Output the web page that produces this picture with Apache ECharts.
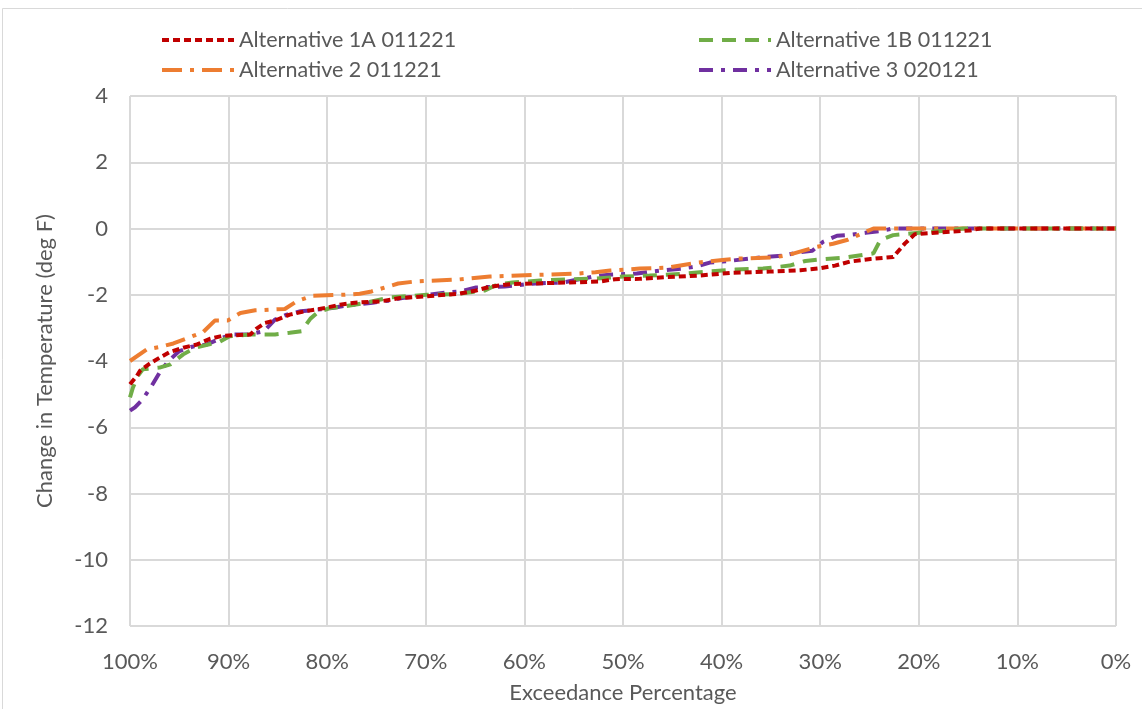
<!DOCTYPE html>
<html>
<head>
<meta charset="utf-8">
<script src="https://cdn.jsdelivr.net/npm/echarts@6/dist/echarts.min.js"></script>
<style>
html,body{margin:0;padding:0;background:#fff;}
#c{width:1142px;height:709px;}
</style>
</head>
<body>
<div id="c"></div>
<script>
const seriesNames = ['Alternative 1A 011221','Alternative 1B 011221','Alternative 2 011221','Alternative 3 020121'];
const xTicks = [100,90,80,70,60,50,40,30,20,10,0];
const yTicks = [-12,-10,-8,-6,-4,-2,0,2,4];

// [exceedance %, change in temperature (deg F)]
const alt1A = [[100,-4.7],[99.3,-4.45],[99,-4.3],[98,-4.08],[97,-3.9],[95.9,-3.72],[94.6,-3.6],[93.2,-3.5],[91.9,-3.33],[90.6,-3.24],[87.8,-3.2],[87.2,-3.03],[86.3,-2.85],[85.3,-2.78],[83.8,-2.6],[82.3,-2.5],[80.2,-2.4],[78.7,-2.3],[77.2,-2.24],[74.6,-2.2],[72.6,-2.1],[70.1,-2.05],[66.7,-1.97],[65,-1.88],[63.5,-1.76],[61.5,-1.68],[55.4,-1.63],[52.3,-1.6],[50.8,-1.53],[48.3,-1.52],[45.7,-1.47],[42.2,-1.42],[39.1,-1.34],[35.1,-1.3],[32,-1.26],[30,-1.2],[28.5,-1.12],[27,-1.0],[24.9,-0.92],[22.6,-0.86],[21.4,-0.45],[20.4,-0.17],[17.8,-0.12],[14.8,-0.06],[13.8,0],[0,0]];
const alt1B = [[100,-5.1],[99.7,-4.8],[99.2,-4.45],[98.7,-4.25],[97,-4.2],[95.9,-4.1],[94.6,-3.8],[93.4,-3.6],[90.9,-3.42],[89.9,-3.25],[87.8,-3.2],[85.3,-3.2],[83.8,-3.15],[82.6,-3.1],[81.7,-2.72],[80.9,-2.52],[79.7,-2.4],[78.2,-2.35],[76.2,-2.25],[73.6,-2.08],[69.9,-2.0],[67,-1.98],[64,-1.87],[62.8,-1.7],[61.2,-1.63],[58.4,-1.57],[55.7,-1.54],[52.8,-1.51],[50,-1.45],[47.3,-1.42],[44.2,-1.37],[41.4,-1.3],[38.6,-1.24],[35.8,-1.21],[33.1,-1.12],[31.5,-0.98],[30.2,-0.94],[27.5,-0.88],[24.6,-0.75],[23.9,-0.35],[22.6,-0.2],[19.9,-0.13],[17.1,-0.06],[15.5,0],[0,0]];
const alt2 = [[100,-4.0],[98.3,-3.65],[97,-3.58],[95.6,-3.47],[94.1,-3.3],[92.6,-3.13],[91.4,-2.78],[90.1,-2.78],[88.8,-2.55],[87.3,-2.47],[84.3,-2.43],[83.1,-2.2],[81.5,-2.03],[78.2,-2.0],[76.7,-1.97],[75.5,-1.9],[72.8,-1.66],[71.1,-1.6],[66.7,-1.54],[63.5,-1.45],[60.6,-1.42],[54.6,-1.36],[52.8,-1.32],[51.3,-1.27],[48.3,-1.21],[45.5,-1.18],[42.4,-1.03],[39.9,-0.95],[38.4,-0.91],[34.6,-0.87],[33.1,-0.79],[30.3,-0.55],[28.7,-0.46],[27.2,-0.34],[24.6,0],[0,0]];
const alt3 = [[100,-5.5],[99.5,-5.4],[98.7,-5.15],[97.8,-4.75],[97,-4.35],[96.1,-4.0],[95,-3.7],[93.7,-3.57],[92.2,-3.5],[90.7,-3.3],[89.4,-3.2],[88,-3.2],[86.4,-3.1],[85.3,-2.75],[84.1,-2.6],[82.7,-2.5],[81,-2.45],[79.5,-2.4],[78.2,-2.33],[75.4,-2.24],[73.8,-2.18],[72.4,-2.1],[70.9,-2.05],[68.1,-1.94],[66.5,-1.9],[64.9,-1.78],[62,-1.75],[58.9,-1.66],[56.1,-1.63],[54.6,-1.54],[53,-1.45],[51.6,-1.4],[48.6,-1.36],[47.1,-1.3],[44,-1.21],[42.6,-1.15],[41.2,-1.03],[39.9,-1.0],[35.3,-0.85],[33.8,-0.82],[32.4,-0.73],[30.8,-0.67],[29.7,-0.4],[28.3,-0.22],[27,-0.19],[25.4,-0.13],[23.9,-0.08],[22.6,0],[0,0]];

const FONT = 'Lato, "Open Sans", sans-serif';
const TXT = '#595959';
const styles = [
  {color:'#C00000', type:[7,4]},
  {color:'#70AD47', type:[14,9]},
  {color:'#ED7D31', type:[20,8,4,8]},
  {color:'#7030A0', type:[14,8,4,8]}
];
const datas = [alt1A, alt1B, alt2, alt3];

const legendBase = {orient:'vertical', top:29, padding:0, itemWidth:72, itemHeight:14, itemGap:8,
  itemStyle:{opacity:0},
  lineStyle:{width:4},
  textStyle:{fontFamily:FONT, fontSize:21.5, color:TXT}};

const chart = echarts.init(document.getElementById('c'), null, {renderer:'canvas'});
chart.setOption({
  animation:false,
  backgroundColor:'#fff',
  graphic:[{type:'rect', shape:{x:2.5,y:8.5,width:1150,height:720}, style:{fill:'none', stroke:'#D9D9D9', lineWidth:1}, silent:true}],
  legend:[
    Object.assign({}, legendBase, {data:[seriesNames[0], seriesNames[2]], left:160}),
    Object.assign({}, legendBase, {data:[seriesNames[1], seriesNames[3]], left:697})
  ],
  grid:{left:130, right:26, top:96, bottom:82, containLabel:false},
  xAxis:{
    type:'value', inverse:true, min:0, max:100, interval:10,
    name:'Exceedance Percentage', nameLocation:'middle', nameGap:56,
    nameTextStyle:{fontFamily:FONT, fontSize:22, color:TXT},
    axisLine:{show:false}, axisTick:{show:false},
    axisLabel:{fontFamily:FONT, fontSize:22, color:TXT, margin:25, formatter: v => xTicks.includes(v) ? v + '%' : ''},
    splitLine:{show:true, lineStyle:{color:'#D9D9D9', width:2}}
  },
  yAxis:{
    type:'value', min:-12, max:4, interval:2,
    name:'Change in Temperature (deg F)', nameLocation:'middle', nameGap:74,
    nameTextStyle:{fontFamily:FONT, fontSize:22, color:TXT},
    axisLine:{show:false}, axisTick:{show:false},
    axisLabel:{fontFamily:FONT, fontSize:22, color:TXT, margin:22, formatter: v => yTicks.includes(v) ? String(v) : ''},
    splitLine:{show:true, lineStyle:{color:'#D9D9D9', width:2}}
  },
  series: seriesNames.map((n,i)=>({
    name:n, type:'line', data:datas[i], symbol:'none', smooth:false,
    lineStyle:{color:styles[i].color, width:4, type:styles[i].type, cap:'butt'},
    itemStyle:{color:styles[i].color},
    z: 10 - i
  }))
});
</script>
</body>
</html>
